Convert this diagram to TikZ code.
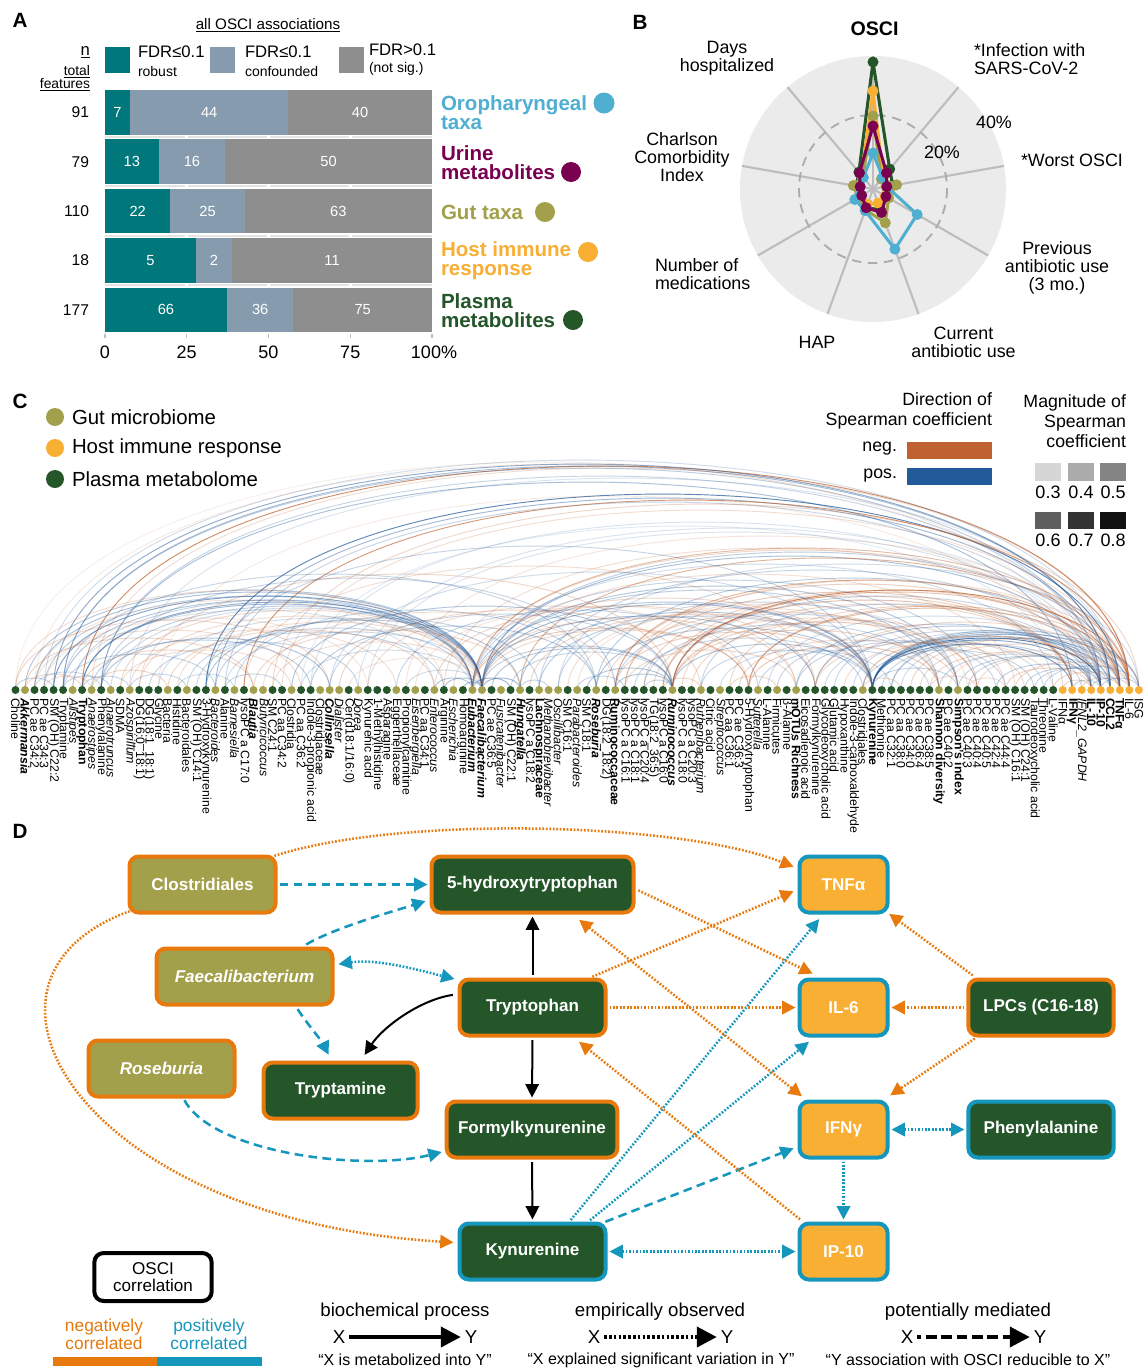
\documentclass[tikz,border=0pt]{standalone}
\usepackage{fontspec}
\setmainfont{Liberation Sans}
\usetikzlibrary{calc,arrows.meta}
\definecolor{cteal}{HTML}{00777B}
\definecolor{cconf}{HTML}{869CAE}
\definecolor{cns}{HTML}{8E8E8E}
\definecolor{coro}{HTML}{4EAFD1}
\definecolor{curine}{HTML}{7A0050}
\definecolor{cgut}{HTML}{A3A04B}
\definecolor{chost}{HTML}{F9AE34}
\definecolor{cplasma}{HTML}{24562A}
\definecolor{cneg}{HTML}{C0622F}
\definecolor{cpos}{HTML}{235A9A}
\definecolor{cbord}{HTML}{E8790C}
\definecolor{cblue}{HTML}{1597BD}
\definecolor{cradar}{HTML}{EBEBEB}
\definecolor{cspoke}{HTML}{BDBDBD}
\newcommand\myfs[2]{\fontsize{#1}{#2}\selectfont}
\newcommand\labsize{\fontsize{9.2}{10}\selectfont}
\newcommand\radarpoly[2]{%
  \foreach \rr [count=\kk from 0] in {#2} {%
    \pgfmathsetmacro\ang{90-40*\kk}%
    \coordinate (rp\kk) at ({873+\rr*cos(\ang)},{189-\rr*sin(\ang)});%
  }%
  \draw[#1, line width=2.3pt, line join=round] (rp0)--(rp1)--(rp2)--(rp3)--(rp4)--(rp5)--(rp6)--(rp7)--(rp8)--cycle;%
  \foreach \kk in {0,...,8} {\fill[#1] (rp\kk) circle (5.5);}%
}
\begin{document}
\begin{tikzpicture}[x=0.75pt, y=-0.75pt,
  every node/.append style={inner sep=0pt, outer sep=0pt},
  plet/.style={font=\myfs{15.5}{16}\bfseries},
  txt/.style={font=\myfs{13.4}{13.5}, align=center},
  barnum/.style={font=\myfs{11}{12}, text=white},
  rl/.style={anchor=west, align=left, font=\myfs{15.4}{14.3}\bfseries},
  cdot/.style={circle, minimum size=6pt},
  dotm/.style={fill=cplasma}, dotg/.style={fill=cgut}, doth/.style={fill=chost},
  clab/.style={rotate=-90, anchor=west, font=\labsize},
  fn/.style={}, fi/.style={font=\labsize\itshape}, fb/.style={font=\labsize\bfseries}, fx/.style={font=\labsize\bfseries\itshape},
  arcN/.style={draw=cneg, line width=0.7pt}, arcP/.style={draw=cpos, line width=0.7pt},
  leg/.style={font=\myfs{15.3}{16}, anchor=west},
  dn/.style={rounded corners=7pt, line width=3pt, minimum height=42pt, inner sep=2pt, outer sep=1.5pt, font=\myfs{12.8}{14}\bfseries, text=white},
  negdot/.style={draw=cbord, line width=1.9pt, dash pattern=on 1.3pt off 1.3pt, shorten >=1.5pt, shorten <=1.5pt},
  posdot/.style={draw=cblue, line width=1.9pt, dash pattern=on 1.3pt off 1.3pt, shorten >=1.5pt, shorten <=1.5pt},
  posdash/.style={draw=cblue, line width=1.9pt, dash pattern=on 6.5pt off 4pt, shorten >=1.5pt, shorten <=1.5pt},
  bio/.style={draw=black, line width=1.5pt, shorten >=1.5pt, shorten <=2pt},
  onetip/.style={-{Triangle[length=10pt,width=10pt]}},
  twotips/.style={{Triangle[length=10pt,width=10pt]}-{Triangle[length=10pt,width=10pt]}},
  bigtip/.style={-{Triangle[length=15pt,width=15pt]}},
  dleg/.style={font=\myfs{14}{15}},
  dquote/.style={font=\myfs{12}{13}},
]
\useasboundingbox (0,0) rectangle (1144,1368);
\fill[white] (0,0) rectangle (1144,1368);

% ================= Panel A =================
\node[plet] (la) at (20,20) {A};
\node[font=\myfs{11.4}{12}] (allo) at (268,25) {\underline{all OSCI associations}};
\node[font=\myfs{12.5}{13}, anchor=east] (nn) at (90,52) {\underline{n}};
\node[font=\myfs{10.4}{11}, anchor=east] (nt) at (90,72) {\underline{total}};
\node[font=\myfs{10.4}{11}, anchor=east] (nf) at (90,85) {\underline{features}};
\fill[cteal] (105,47) rectangle (130,73);
\fill[cconf] (210,47) rectangle (235,73);
\fill[cns] (339,47) rectangle (364,73);
\node[font=\myfs{12.5}{13}, anchor=west] (lg1) at (138,52) {FDR≤0.1};
\node[font=\myfs{10.5}{11}, anchor=west] (lg1b) at (138,71) {robust};
\node[font=\myfs{12.5}{13}, anchor=west] (lg2) at (245,52) {FDR≤0.1};
\node[font=\myfs{10.5}{11}, anchor=west] (lg2b) at (245,71) {confounded};
\node[font=\myfs{12.5}{13}, anchor=west] (lg3) at (369,50) {FDR>0.1};
\node[font=\myfs{10.5}{11}, anchor=west] (lg3b) at (369,69) {(not sig.)};
\foreach \rw in {0,...,3} {
  \pgfmathsetmacro\yg{90+49.4*\rw+44.5+2.45}
  \draw[gray!22, line width=1.4pt] (105,\yg) -- (432,\yg);
}
\foreach \gx in {186.75,268.5,350.25} {\draw[white, line width=2.5pt] (\gx,89) -- (\gx,334);}
\foreach \rw/\nt/\va/\vb/\vc in {0/91/7/44/40,1/79/13/16/50,2/110/22/25/63,3/18/5/2/11,4/177/66/36/75}{
  \pgfmathsetmacro\yt{90+49.4*\rw}
  \pgfmathsetmacro\yb{\yt+44.5}
  \pgfmathsetmacro\ym{\yt+22.25}
  \pgfmathsetmacro\fa{\va/\nt}
  \pgfmathsetmacro\fb{\vb/\nt}
  \pgfmathsetmacro\xa{105+327*\fa}
  \pgfmathsetmacro\xb{\xa+327*\fb}
  \fill[cteal] (105,\yt) rectangle (\xa,\yb);
  \fill[cconf] (\xa,\yt) rectangle (\xb,\yb);
  \fill[cns] (\xb,\yt) rectangle (432,\yb);
  \node[barnum] (ba\rw) at ({(105+\xa)/2},\ym) {\va};
  \node[barnum] (bb\rw) at ({(\xa+\xb)/2},\ym) {\vb};
  \node[barnum] (bc\rw) at ({(\xb+432)/2},\ym) {\vc};
  \node[font=\myfs{11.7}{12}, anchor=east] (bn\rw) at (89,\ym) {\nt};
}
\foreach \gx in {105,186.75,268.5,350.25,432} {\draw[gray!50, line width=0.8pt] (\gx,334) -- (\gx,338);}
\node[font=\myfs{13.5}{14}] (ax0) at (105,352) {0};
\node[font=\myfs{13.5}{14}] (ax1) at (186.75,352) {25};
\node[font=\myfs{13.5}{14}] (ax2) at (268.5,352) {50};
\node[font=\myfs{13.5}{14}] (ax3) at (350.25,352) {75};
\node[font=\myfs{13.5}{14}] (ax4) at (434,352) {100\%};
\node[rl, text=coro] (ror) at (441,112.5) {Oropharyngeal\\taxa};
\fill[coro] (604,103) circle (10.5);
\node[rl, text=curine] (rur) at (441,162.5) {Urine\\metabolites};
\fill[curine] (571,172) circle (10);
\node[rl, text=cgut] (rgu) at (441,212) {Gut taxa};
\fill[cgut] (545,212) circle (10);
\node[rl, text=chost] (rho) at (441,260.5) {Host immune\\response};
\fill[chost] (588,252) circle (10);
\node[rl, text=cplasma] (rpl) at (441,310.5) {Plasma\\metabolites};
\fill[cplasma] (573,320) circle (10);

% ================= Panel B =================
\node[plet] (lb) at (640,22) {B};
\coordinate (bc) at (873,189);
\fill[cradar] (bc) circle (133);
\foreach \ang in {90,50,10,-30,-70,-110,-150,170,130} {
  \draw[cspoke, line width=1.6pt] (bc) -- ({873+133*cos(\ang)},{189-133*sin(\ang)});
}
\draw[gray!65, line width=1.4pt, dash pattern=on 7pt off 5pt] (bc) circle (74);
\radarpoly{cplasma}{127,26,20,16,22,20,16,17,22}
\radarpoly{chost}{98,16,13,14,15,16,14,14,18}
\radarpoly{cgut}{73,13,24,18,36,22,17,20,16}
\radarpoly{coro}{36,15,14,51,64,23,21,13,15}
\radarpoly{curine}{63,21,14,15,25,20,13,13,21}
\node[font=\myfs{14.7}{15}\bfseries] (bosci) at (874.5,29) {OSCI};
\node[txt] (bdays) at (727,58) {Days\\hospitalized};
\node[txt, align=left, anchor=west] (binf) at (974,59.5) {*Infection with\\SARS-CoV-2};
\node[txt, anchor=west] (bworst) at (1021,160) {*Worst OSCI};
\node[txt] (bprev) at (1057,268) {Previous\\antibiotic use\\(3 mo.)};
\node[txt] (bcurr) at (963.5,342) {Current\\antibiotic use};
\node[txt] (bhap) at (817,342) {HAP};
\node[txt, align=left, anchor=west] (bnum) at (655,274) {Number of\\medications};
\node[txt] (bcharl) at (682,157) {Charlson\\Comorbidity\\Index};
\node[txt] (b20) at (942,152) {20\%};
\node[txt] (b40) at (994,122) {40\%};

% ================= Panel C =================
\node[plet] (lc) at (20,401) {C};
\fill[cgut] (55,417) circle (9);
\fill[chost] (55,448) circle (9);
\fill[cplasma] (55,479) circle (9);
\node[leg] (cl1) at (72,417) {Gut microbiome};
\node[leg] (cl2) at (72,448) {Host immune response};
\node[leg] (cl3) at (72,479) {Plasma metabolome};
\node[font=\myfs{13.3}{15}, align=right, anchor=east] (cdir) at (992,411) {Direction of\\Spearman coefficient};
\node[font=\myfs{13.3}{15}, anchor=east] (cneg) at (897,449) {neg.};
\node[font=\myfs{13.3}{15}, anchor=east] (cpos) at (897,476) {pos.};
\fill[cneg] (907,442) rectangle (992,459);
\fill[cpos] (907,468) rectangle (992,485);
\node[font=\myfs{13.3}{15}, align=right, anchor=east] (cmag) at (1126,421) {Magnitude of\\Spearman\\coefficient};
\foreach \sx/\sc/\sl in {1035/D6D6D6/0.3,1068/ABABAB/0.4,1100/848484/0.5}{
  \definecolor{tmpc}{HTML}{\sc}
  \fill[tmpc] (\sx,463) rectangle ({\sx+26},481);
  \node[font=\myfs{13.5}{14}] (sq\sx) at ({\sx+13},492) {\sl};
}
\foreach \sx/\sc/\sl in {1035/5E5E5E/0.6,1068/333333/0.7,1100/111111/0.8}{
  \definecolor{tmpc}{HTML}{\sc}
  \fill[tmpc] (\sx,512) rectangle ({\sx+26},529);
  \node[font=\myfs{13.5}{14}] (sr\sx) at ({\sx+13},540) {\sl};
}
\foreach \i in {0,...,118} {\coordinate (p\i) at ({15.5+9.52*\i},690);}
\foreach \ia/\ib/\ac/\ao in {
7/117/N/0.85,8/117/N/0.25,4/115/P/0.6,5/115/P/0.45,5/114/P/0.35,3/116/P/0.25,2/113/N/0.15,0/112/N/0.12,
9/114/P/0.3,12/116/P/0.2,20/116/P/0.85,21/115/P/0.5,22/114/P/0.3,24/117/N/0.75,27/118/N/0.3,28/116/N/0.25,
31/113/P/0.2,36/115/P/0.2,45/114/N/0.25,48/117/N/0.5,48/116/N/0.3,49/114/P/0.45,49/116/P/0.35,53/117/N/0.55,
55/113/P/0.3,61/115/P/0.35,63/116/N/0.55,63/114/N/0.35,69/117/N/0.85,69/116/N/0.45,69/114/P/0.3,72/113/P/0.3,
77/116/N/0.5,77/117/N/0.4,82/113/P/0.35,84/114/P/0.4,84/116/N/0.3,64/111/N/0.4,66/111/N/0.35,68/111/N/0.5,
70/111/N/0.3,68/116/N/0.3,64/117/N/0.25,9/111/P/0.45,37/114/P/0.2,41/116/N/0.2,30/110/P/0.15,15/110/N/0.15,
57/118/P/0.25,75/115/N/0.3,79/114/P/0.25,
90/114/P/0.9,90/111/P/0.7,90/113/P/0.6,90/116/P/0.5,90/117/P/0.45,90/115/P/0.4,90/118/P/0.35,89/114/N/0.5,
91/112/P/0.3,97/113/P/0.3,99/114/P/0.3,95/116/N/0.3,86/114/P/0.3,88/115/P/0.25,92/116/P/0.3,93/117/P/0.25,
96/113/N/0.3,98/116/N/0.2,100/115/P/0.3,103/114/P/0.35,105/117/N/0.3,107/116/P/0.3,109/116/N/0.3,108/118/P/0.3,
94/118/N/0.3,92/118/P/0.3,101/117/N/0.25,104/113/N/0.3,106/115/P/0.3,
1/49/P/0.4,2/49/P/0.45,3/48/P/0.35,4/49/P/0.65,5/48/P/0.4,6/49/P/0.3,7/48/P/0.5,7/49/P/0.6,9/49/P/0.35,
10/49/P/0.25,11/49/N/0.3,13/48/N/0.25,15/49/P/0.25,17/49/N/0.25,19/48/P/0.3,22/49/P/0.25,27/49/N/0.25,30/48/P/0.25,
35/49/N/0.2,41/49/P/0.25,0/48/N/0.25,2/45/N/0.2,6/44/P/0.2,
49/90/P/0.5,49/84/P/0.45,48/90/P/0.4,49/99/P/0.4,49/97/P/0.35,48/101/P/0.3,49/105/N/0.25,48/77/N/0.4,
49/69/P/0.35,48/109/P/0.25,48/82/N/0.3,49/77/N/0.3,
0/33/N/0.3,1/25/N/0.3,2/30/N/0.25,3/37/N/0.2,5/21/P/0.3,7/25/N/0.3,8/31/P/0.35,9/33/P/0.4,11/29/N/0.25,
12/40/N/0.25,14/36/P/0.3,16/44/N/0.3,18/45/P/0.3,20/53/P/0.4,21/55/P/0.3,23/61/P/0.3,25/53/N/0.3,26/63/N/0.25,
29/69/P/0.4,31/61/P/0.35,33/69/P/0.3,34/72/N/0.3,37/77/N/0.25,40/78/P/0.3,42/82/N/0.2,44/84/N/0.3,46/90/N/0.3,
50/69/P/0.4,52/69/P/0.3,53/90/P/0.4,54/90/N/0.3,55/90/P/0.35,57/99/P/0.3,58/97/N/0.25,59/100/N/0.2,61/90/P/0.4,
62/99/N/0.3,63/90/N/0.35,63/99/P/0.3,64/82/N/0.3,65/89/P/0.3,66/97/P/0.3,67/101/N/0.3,69/90/P/0.4,69/97/N/0.35,
69/101/N/0.4,71/104/N/0.3,72/90/P/0.3,74/92/P/0.25,76/99/N/0.3,77/97/N/0.4,78/96/P/0.3,80/103/P/0.3,82/104/P/0.3,
84/106/N/0.3,85/108/P/0.25,87/109/N/0.25,89/107/P/0.3,90/99/P/0.3,20/90/P/0.3,24/84/N/0.25,13/69/N/0.3,33/90/P/0.25,
9/63/P/0.3,5/61/P/0.3,
0/4/P/0.3,1/7/N/0.3,2/9/P/0.25,3/8/N/0.25,5/10/P/0.3,7/12/P/0.3,8/16/N/0.3,12/18/P/0.3,17/23/P/0.25,22/28/P/0.3,
47/49/P/0.4,48/52/P/0.5,49/53/P/0.5,45/49/P/0.4,44/48/P/0.4,53/56/P/0.3,59/64/P/0.3,60/69/P/0.4,63/69/P/0.4,
66/69/P/0.3,68/72/N/0.3,75/80/N/0.3,89/93/N/0.3,110/113/N/0.3,111/114/P/0.3,112/116/N/0.3,113/117/P/0.3,
114/118/P/0.3,100/104/N/0.25,96/101/N/0.25}{
  \pgfmathsetmacro\archt{4/3*(0.21*9.52*(\ib-\ia)+4)}
  \pgfmathsetmacro\aop{0.85*\ao}
  \draw[arc\ac, draw opacity=\aop] (p\ia) .. controls +(0,-\archt) and +(0,-\archt) .. (p\ib);
}
\foreach \labtxt/\labcol/\labfnt [count=\i from 0] in {
Choline/m/n, Akkermansia/g/x, PC ae C34:2/m/n, PC ae C34:3/m/n, SM (OH) C22:2/m/n, Tryptamine/m/n, Alistipes/g/i,
Tryptophan/m/b, Anaerostipes/g/i, Phenylalanine/m/n, Anaerotruncus/g/i, SDMA/m/n, Azospirillum/g/i,
DG(16:0\_18:1)/m/n, DG(18:1\_18:1)/m/n, Glycine/m/n, Bacteria/g/n, Histidine/m/n, Bacteroidales/g/n,
SM (OH) C14:1/m/n, 3-Hydroxykynurenine/m/n, Bacteroides/g/i, Alanine/m/n, Barnesiella/g/i, lysoPC a C17:0/m/n,
Blautia/g/x, Butyricicoccus/g/i, SM C24:1/m/n, PC aa C34:2/m/n, Clostridia/g/n, PC aa C36:2/m/n,
Indole-3-propionic acid/m/n, Clostridiaceae/g/n, Collinsella/g/x, Dialister/g/i, {Cer(d18:1/16:0)}/m/n, Dorea/g/i,
Kynurenic acid/m/n, 1-Methylhistidine/m/n, Asparagine/m/n, Eggerthellaceae/g/n, Propionylcarnitine/m/n,
Eisenbergiella/g/i, PC aa C34:1/m/n, Enterococcus/g/i, Arginine/m/n, Escherichia/g/i, Homoarginine/m/n,
Eubacterium/g/x, Faecalibacterium/g/x, PC ae C36:5/m/n, Fusicatenibacter/g/i, SM (OH) C22:1/m/n, Hungatella/g/x,
lysoPC a C18:2/m/n, Lachnospiraceae/g/b, Methanobrevibacter/g/i, Oscillibacter/g/i, SM C16:1/m/n,
Parabacteroides/g/i, SM C18:1/m/n, Roseburia/g/x, DG(18:2\_18:2)/m/n, Ruminococcaceae/g/b, lysoPC a C16:1/m/n,
lysoPC a C18:1/m/n, lysoPC a C20:4/m/n, TG(18:2\_36:5)/m/n, lysoPC a C16:0/m/n, Ruminococcus/g/x,
lysoPC a C18:0/m/n, lysoPC a C20:3/m/n, Ruthenibacterium/g/i, Citric acid/m/n, Streptococcus/g/i, PC aa C36:1/m/n,
PC ae C36:3/m/n, 5-Hydroxytryptophan/m/n, Sutterella/g/i, L-Alanine/m/n, Firmicutes/g/n, β-Alanine/m/n,
mOTUs Richness/g/b, Eicosadienoic acid/m/n, Formylkynurenine/m/n, Glycodeoxycholic acid/m/n, Glutamic acid/m/n,
Hypoxanthine/m/n, Indole-3-carboxaldehyde/m/n, Clostridiales/g/n, Kynurenine/m/b, Methionine/m/n,
PC aa C32:1/m/n, PC aa C38:0/m/n, PC ae C34:0/m/n, PC ae C36:4/m/n, PC ae C38:5/m/n, Shannon diversity/g/b,
PC ae C40:2/m/n, Simpson's index/g/b, PC ae C40:3/m/n, PC ae C40:4/m/n, PC ae C40:5/m/n, PC ae C42:4/m/n,
PC ae C44:4/m/n, SM (OH) C16:1/m/n, SM (OH) C24:1/m/n, Taurodeoxycholic acid/m/n, Threonine/m/n, L-Valine/m/n,
IFNα/h/n, IFNγ/h/b, IFNL2\_GAPDH/h/i, IL-10/h/b, IP-10/h/b, CCL2/h/b, TNFα/h/b, IL-6/h/n, ISG/h/n}{
  \node[cdot, dot\labcol] (d\i) at (p\i) {};
  \node[clab, f\labfnt] (l\i) at ($(p\i)+(0,8)$) {\labtxt};
}

% ================= Panel D =================
\node[plet] (ld) at (20,831) {D};
\node[dn, fill=cgut, draw=cbord, minimum width=109.5pt] (clos) at (202.5,884.5) {Clostridiales};
\node[dn, fill=cplasma, draw=cbord, minimum width=151.5pt] (htp) at (532.5,884.5) {5-hydroxytryptophan};
\node[dn, fill=chost, draw=cblue, minimum width=66pt] (tnf) at (843.5,884.5) {TNFα};
\node[dn, fill=cgut, draw=cbord, minimum width=132pt] (faec) at (244.5,976.5) {\itshape Faecalibacterium};
\node[dn, fill=cplasma, draw=cbord, minimum width=109.5pt] (trp) at (532.5,1007.5) {Tryptophan};
\node[dn, fill=chost, draw=cblue, minimum width=66pt] (il6) at (843.5,1007.5) {IL-6};
\node[dn, fill=cplasma, draw=cbord, minimum width=109pt] (lpc) at (1041,1007.5) {LPCs (C16-18)};
\node[dn, fill=cgut, draw=cbord, minimum width=109.5pt] (rose) at (161.5,1068.5) {\itshape Roseburia};
\node[dn, fill=cplasma, draw=cbord, minimum width=115.5pt] (tmn) at (340.5,1090.5) {Tryptamine};
\node[dn, fill=cplasma, draw=cbord, minimum width=128pt] (formyl) at (532,1129.5) {Formylkynurenine};
\node[dn, fill=chost, draw=cblue, minimum width=66pt] (ifng) at (843.5,1129.5) {IFNγ};
\node[dn, fill=cplasma, draw=cblue, minimum width=109pt] (phe) at (1041,1129.5) {Phenylalanine};
\node[dn, fill=cplasma, draw=cblue, minimum width=109.5pt] (kyn) at (532.5,1251.5) {Kynurenine};
\node[dn, fill=chost, draw=cblue, minimum width=66pt] (ip10) at (843.5,1251.5) {IP-10};

% black biochemical
\draw[bio, onetip] (trp.north) -- (htp.south);
\draw[bio, onetip] (trp.south) -- (formyl.north);
\draw[bio, onetip] (formyl.south) -- (kyn.north);
\draw[bio, onetip] ($(trp.west)+(-2,-13)$) .. controls +(-35,5) and +(20,-30) .. ($(tmn.north east)+(-56,-4)$);
% blue dashed
\draw[posdash, onetip] (clos.east) -- (htp.west);
\draw[posdash, onetip] ($(faec.north east)+(-30,-1)$) .. controls +(30,-18) and +(-25,8) .. ($(htp.south west)+(-2,-14)$);
\draw[posdash, onetip] ($(faec.south east)+(-38,1)$) .. controls +(12,18) and +(-8,-16) .. ($(tmn.north west)+(68,-4)$);
\draw[posdash, onetip] ($(rose.south)+(22,0)$) .. controls +(30,55) and +(-80,20) .. ($(formyl.west)+(-1,22)$);
\draw[posdash, onetip] ($(kyn.north east)+(-4,1)$) -- ($(ifng.west)+(-2,18)$);
% blue dotted
\draw[posdot, twotips] ($(faec.east)+(2,-12)$) .. controls +(40,-6) and +(-40,-10) .. ($(trp.west)+(-1,-28)$);
\draw[posdot, onetip] ($(kyn.north)+(37,0)$) -- ($(tnf.south west)+(23,3)$);
\draw[posdot, onetip] ($(kyn.north)+(56,0)$) -- ($(il6.south west)+(13,3)$);
\draw[posdot, twotips] (kyn.east) -- (ip10.west);
\draw[posdot, twotips] (ifng.east) -- (phe.west);
\draw[posdot, onetip] (ifng.south) -- (ip10.north);
% orange dotted
\draw[negdot, onetip] ($(clos.north east)+(-5,2)$) .. controls (400,815) and (680,822) .. ($(tnf.west)+(-2,-17)$);
\draw[negdot, onetip] ($(clos.south west)+(4,-4)$) .. controls (-60,980) and (80,1220) .. ($(kyn.west)+(-2,-9)$);
\draw[negdot, onetip] ($(htp.east)+(1,5)$) -- ($(il6.north west)+(17,-3)$);
\draw[negdot, onetip] ($(trp.north east)+(-17,0)$) -- ($(tnf.west)+(-2,6)$);
\draw[negdot, onetip] (trp.east) -- (il6.west);
\draw[negdot, onetip] ($(ip10.north west)+(4,-1)$) -- ($(trp.south east)+(-30,3)$);
\draw[negdot, twotips] ($(htp.south east)+(-58,4)$) -- ($(ifng.north west)+(6,-2)$);
\draw[negdot, onetip] ($(lpc.north west)+(8,-1)$) -- ($(tnf.south east)+(-2,-2)$);
\draw[negdot, onetip] (lpc.west) -- (il6.east);
\draw[negdot, onetip] ($(lpc.south west)+(10,0)$) -- ($(ifng.north east)+(-1,-3)$);

% legend D
\node[draw=black, line width=3pt, rounded corners=7pt, minimum width=88pt, minimum height=36pt, align=center, font=\myfs{12.8}{12.8}] (osci) at (153,1277) {OSCI\\correlation};
\node[text=cbord, align=center, font=\myfs{13}{13.5}] (negl) at (104,1334) {negatively\\correlated};
\node[text=cblue, align=center, font=\myfs{13}{13.5}] (posl) at (209,1334) {positively\\correlated};
\fill[cbord] (53,1357) rectangle (157,1366);
\fill[cblue] (157,1357) rectangle (262,1366);
\node[dleg] (h1) at (405,1312) {biochemical process};
\node[dleg] (h2) at (660,1312) {empirically observed};
\node[dleg] (h3) at (968,1312) {potentially mediated};
\node[dleg, inner sep=3pt] (x1) at (339,1337) {X};
\node[dleg, inner sep=3pt] (y1) at (471,1337) {Y};
\node[dleg, inner sep=3pt] (x2) at (594,1337) {X};
\node[dleg, inner sep=3pt] (y2) at (727,1337) {Y};
\node[dleg, inner sep=3pt] (x3) at (907,1337) {X};
\node[dleg, inner sep=3pt] (y3) at (1040,1337) {Y};
\draw[line width=3pt, bigtip] (x1) -- (y1);
\draw[line width=3pt, dash pattern=on 2pt off 1.6pt, bigtip] (x2) -- (y2);
\draw[line width=3pt, dash pattern=on 8pt off 3.5pt, dash phase=5pt, bigtip] (x3) -- (y3);
\node[dquote] (q1) at (405,1360) {“X is metabolized into Y”};
\node[dquote] (q2) at (661,1360) {“X explained significant variation in Y”};
\node[dquote] (q3) at (968,1360) {“Y association with OSCI reducible to X”};
\end{tikzpicture}
\end{document}
